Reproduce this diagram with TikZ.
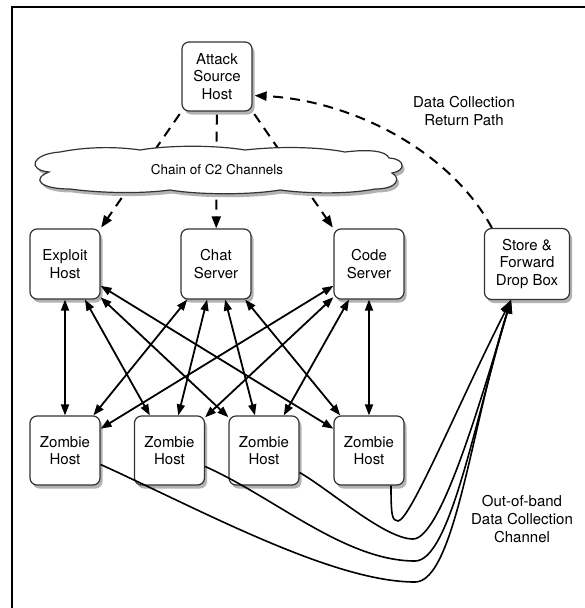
\documentclass[tikz,border=0pt]{standalone}
\usepackage{fontspec}
\setmainfont{TeX Gyre Heros}
\usetikzlibrary{arrows.meta,shadows,calc}
\newcommand{\myCloudOutline}{(60,152) .. controls (90,146) and (120,147) .. (140,150)
  .. controls (170,145) and (215,145) .. (245,150)
  .. controls (280,146) and (320,147) .. (345,152)
  .. controls (370,149) and (386,151) .. (389,158)
  .. controls (406,159) and (406,171) .. (392,173)
  .. controls (401,178) and (398,189) .. (375,189)
  .. controls (350,194) and (310,194) .. (280,190)
  .. controls (250,195) and (200,195) .. (170,190)
  .. controls (140,194) and (100,193) .. (70,189)
  .. controls (40,189) and (31,179) .. (49,172)
  .. controls (27,170) and (31,154) .. (60,152) -- cycle}
\begin{document}
\begin{tikzpicture}[x=1pt,y=-1pt,
  shad/.style={drop shadow={shadow xshift=2.5pt,shadow yshift=-3.5pt,opacity=0.3,fill=black}},
  box/.style={draw=black!80,line width=1.2pt,rounded corners=7pt,fill=white,
    minimum width=70pt,minimum height=69pt,align=center,inner sep=0pt,
    font=\fontsize{15}{17.5}\selectfont,shad},
  lbl/.style={align=center,font=\fontsize{15}{18}\selectfont,inner sep=0pt},
  dbl/.style={line width=1.8pt,{Triangle[length=11pt,width=8pt]}-{Triangle[length=11pt,width=8pt]}},
  dsh/.style={line width=2pt,dash pattern=on 10pt off 7pt},
  dsharrow/.style={dsh,-{Triangle[length=12pt,width=9pt]}},
  ob/.style={line width=1.6pt,-{Triangle[length=13pt,width=10pt]}}]
\useasboundingbox (0,0) rectangle (584,608);
\fill[white] (0,0) rectangle (584,608);
\draw[line width=2pt] (12,610) -- (12,6.5) -- (586,6.5);

% boxes
\node[box] (att) at (217,76.5) {Attack\\Source\\Host};
\node[box,minimum height=70pt] (exp) at (65,264) {Exploit\\Host};
\node[box,minimum height=70pt] (chat) at (216,264) {Chat\\Server};
\node[box,minimum height=70pt] (code) at (369,264) {Code\\Server};
\node[box,minimum width=85pt,minimum height=71pt] (store) at (527,264) {Store \&\\Forward\\Drop Box};
\node[box] (z1) at (65,450.5) {Zombie\\Host};
\node[box] (z2) at (169.5,450.5) {Zombie\\Host};
\node[box] (z3) at (264,450.5) {Zombie\\Host};
\node[box] (z4) at (369,450.5) {Zombie\\Host};

% C2 dashed links (behind the cloud)
\draw[dsharrow,shorten <=3pt,shorten >=1pt] (att.south west) -- (exp.north east);
\draw[dsharrow,shorten <=3pt] (att) -- (chat);
\draw[dsharrow,shorten <=3pt,shorten >=1pt] (att.south east) -- (code.north west);

% cloud
\fill[black,opacity=0.3,shift={(2.5,3.5)}] \myCloudOutline;
\draw[black!80,line width=1.2pt,fill=white] \myCloudOutline;
\node[font=\fontsize{13.5}{15}\selectfont,inner sep=0pt] (cloud) at (217,170) {Chain of C2 Channels};

% return path
\draw[dsharrow] ($(store.north west)+(8,0)$) .. controls (450,150) and (350,100) .. ($(att.south east)+(2,-16)$);
\node[lbl] (rp) at (464,111.5) {Data Collection\\Return Path};

% servers <-> zombies
\foreach \s in {exp,chat,code}{
  \foreach \z in {z1,z2,z3,z4}{
    \draw[dbl] (\s) -- (\z);
  }
}

% out-of-band channel
\coordinate (sin) at ($(store.south)+(-16,0)$);
\draw[ob] ($(z1.east)+(0,14)$) .. controls (199,509) and (332,582) .. (415,582)
   .. controls (455,582) and (472,422) .. (sin);
\draw[ob] ($(z2.east)+(0,16)$) .. controls (274,497) and (345,561) .. (415,561)
   .. controls (450,561) and (475,420) .. (sin);
\draw[ob] ($(z3.east)+(0,22)$) .. controls (330,490) and (385,539) .. (413,539)
   .. controls (440,539) and (478,410) .. (sin);
\draw[ob] ($(z4.south)+(22,0)$) .. controls (391,515) and (392,521) .. (398,521)
   .. controls (410,521) and (460,400) .. (sin);
\node[lbl] (oob) at (522,519) {Out-of-band\\Data Collection\\Channel};
\end{tikzpicture}
\end{document}
